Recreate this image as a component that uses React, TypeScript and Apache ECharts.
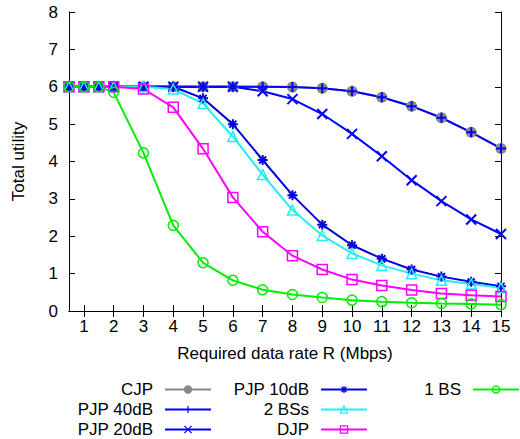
import React, { useEffect, useRef } from "react";
import * as echarts from "echarts";

const xValues = [0.5, 1, 1.5, 2, 3, 4, 5, 6, 7, 8, 9, 10, 11, 12, 13, 14, 15];
const xTicks = [1, 2, 3, 4, 5, 6, 7, 8, 9, 10, 11, 12, 13, 14, 15];

const cjp = [6, 6, 6, 6, 6, 6, 6, 6, 6, 5.99, 5.96, 5.88, 5.72, 5.48, 5.17, 4.78, 4.35];
const pjp40 = [6, 6, 6, 6, 6, 6, 6, 6, 6, 5.99, 5.96, 5.88, 5.72, 5.48, 5.17, 4.78, 4.35];
const pjp20 = [6, 6, 6, 6, 6, 6, 6, 6, 5.88, 5.67, 5.27, 4.74, 4.14, 3.5, 2.94, 2.45, 2.06];
const pjp10 = [6, 6, 6, 6, 6, 6, 5.69, 5.0, 4.04, 3.1, 2.31, 1.76, 1.4, 1.11, 0.92, 0.78, 0.66];
const bs2 = [6, 6, 6, 6, 6, 5.94, 5.55, 4.67, 3.65, 2.7, 2.02, 1.54, 1.22, 1.0, 0.82, 0.72, 0.62];
const djp = [6, 6, 6, 6, 5.94, 5.45, 4.34, 3.04, 2.12, 1.48, 1.11, 0.84, 0.68, 0.56, 0.47, 0.42, 0.39];
const bs1 = [6, 6, 6, 5.85, 4.23, 2.29, 1.29, 0.82, 0.57, 0.44, 0.36, 0.29, 0.25, 0.22, 0.2, 0.19, 0.17];

const seriesNames = ["CJP", "PJP 40dB", "PJP 20dB", "PJP 10dB", "2 BSs", "DJP", "1 BS"];

const FONT = "'Liberation Sans', Arial, Helvetica, sans-serif";
const FS = 17;

const PLUS = "path://M0,5L10,5M5,0L5,10";
const CROSS = "path://M0,0L10,10M0,10L10,0";
const STAR = "path://M0,5L10,5M5,0L5,10M1.5,1.5L8.5,8.5M1.5,8.5L8.5,1.5";

function pairs(ys: number[]) {
  return xValues.map((x, i) => [x, ys[i]]);
}

export default function App() {
  const ref = useRef<HTMLDivElement>(null);
  useEffect(() => {
    document.body.style.margin = "0";
    if (!ref.current) return;
    const chart = echarts.init(ref.current, null, { renderer: "svg" });

    const mk = (
      name: string,
      ys: number[],
      color: string,
      symbol: string,
      size: number,
      filled: boolean,
      bw: number
    ) => ({
      name,
      type: "line",
      data: pairs(ys),
      symbol,
      symbolSize: size,
      showSymbol: true,
      lineStyle: { color, width: 2 },
      itemStyle: {
        color: filled ? color : "rgba(0,0,0,0)",
        borderColor: color,
        borderWidth: bw,
      },
      emphasis: { disabled: true },
      z: 2,
    });

    const legendPos: [string, number, number][] = [
      ["CJP", 308, 381],
      ["PJP 40dB", 308, 401],
      ["PJP 20dB", 308, 421],
      ["PJP 10dB", 152, 381],
      ["2 BSs", 152, 401],
      ["DJP", 152, 421],
      ["1 BS", 0, 381],
    ];

    const axisCommon = {
      type: "value" as const,
      axisLine: { show: true, lineStyle: { color: "#000", width: 1 } },
      splitLine: { show: false },
    };

    chart.setOption({
      animation: false,
      backgroundColor: "#fff",
      textStyle: { fontFamily: FONT },
      grid: { left: 69, right: 19, top: 12, bottom: 128 },
      legend: legendPos.map(([name, right, top]) => ({
        data: [name],
        right,
        top,
        align: "right",
        orient: "horizontal",
        itemWidth: 46,
        itemHeight: 9,
        itemGap: 0,
        padding: 0,
        selectedMode: false,
        itemStyle: { borderWidth: 1.2 },
        textStyle: {
          fontFamily: FONT,
          fontSize: FS,
          lineHeight: 17,
          color: "#000",
          padding: [0, 7, 0, 0],
        },
      })),
      xAxis: [
        {
          ...axisCommon,
          position: "bottom",
          min: 0.5,
          max: 15,
          axisTick: { show: true, inside: true, length: 6, customValues: xTicks, lineStyle: { color: "#000" } },
          axisLabel: { show: true, customValues: xTicks, fontSize: FS, color: "#000", margin: 7, fontFamily: FONT },
          name: "Required data rate R (Mbps)",
          nameLocation: "middle",
          nameGap: 34,
          nameTextStyle: { fontSize: FS, color: "#000", fontFamily: FONT },
        },
        {
          ...axisCommon,
          position: "top",
          min: 0.5,
          max: 15,
          axisTick: { show: true, inside: true, length: 6, customValues: xTicks, lineStyle: { color: "#000" } },
          axisLabel: { show: false },
        },
      ],
      yAxis: [
        {
          ...axisCommon,
          position: "left",
          min: 0,
          max: 8,
          interval: 1,
          axisTick: { show: true, inside: true, length: 6, lineStyle: { color: "#000" } },
          axisLabel: { show: true, fontSize: FS, color: "#000", margin: 11, fontFamily: FONT },
          name: "Total utility",
          nameLocation: "middle",
          nameGap: 42,
          nameTextStyle: { fontSize: FS, color: "#000", fontFamily: FONT },
        },
        {
          ...axisCommon,
          position: "right",
          min: 0,
          max: 8,
          interval: 1,
          axisTick: { show: true, inside: true, length: 6, lineStyle: { color: "#000" } },
          axisLabel: { show: false },
        },
      ],
      series: [
        mk(seriesNames[0], cjp, "#888888", "circle", 11, true, 0),
        mk(seriesNames[1], pjp40, "#0000ff", PLUS, 10, false, 2),
        mk(seriesNames[2], pjp20, "#0000ff", CROSS, 10, false, 2),
        mk(seriesNames[3], pjp10, "#0000dd", STAR, 10, false, 2),
        mk(seriesNames[4], bs2, "#22eef0", "triangle", 10, false, 1.5),
        mk(seriesNames[5], djp, "#ff00ff", "rect", 10, false, 1.5),
        mk(seriesNames[6], bs1, "#00ee00", "circle", 10, false, 1.5),
      ],
    });
    return () => chart.dispose();
  }, []);
  return <div ref={ref} style={{ width: 520, height: 439 }} />;
}
